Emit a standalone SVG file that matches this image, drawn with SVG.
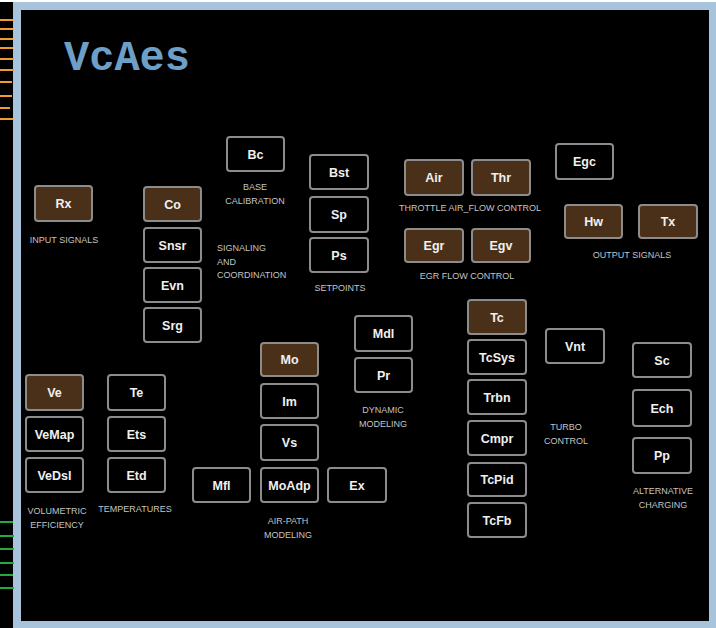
<svg xmlns="http://www.w3.org/2000/svg" width="716" height="628" viewBox="0 0 716 628">
<defs>
<style>
.n rect{fill:#000;stroke:#8c8c8c;stroke-width:2}
.n.b rect{fill:#4b3019}
.n text{font-family:"Liberation Sans",Arial,sans-serif;font-weight:bold;font-size:12.5px;fill:#f0f0f0;text-anchor:middle}
.lb{font-family:"Liberation Sans",Arial,sans-serif;font-size:9px;fill:#c4c4c4;text-anchor:middle}
.lbl{font-family:"Liberation Sans",Arial,sans-serif;font-size:9px;fill:#c4c4c4}
.or{stroke:#f39a2c;stroke-width:2}
.gr{stroke:#1fae3c;stroke-width:2}
</style>
</defs>
<rect width="716" height="628" fill="#ffffff"/>
<rect x="0" y="2" width="716" height="626" fill="#000"/>
<rect x="17" y="6" width="696" height="619" fill="#000" stroke="#a8c3dc" stroke-width="8"/>
<g id="edge-marks">
<line class="or" x1="0" y1="20" x2="13" y2="20"/>
<line class="or" x1="0" y1="29" x2="13" y2="29"/>
<line class="or" x1="0" y1="39" x2="13" y2="39"/>
<line class="or" x1="0" y1="48" x2="13" y2="48"/>
<line class="or" x1="0" y1="59" x2="14" y2="59"/>
<line class="or" x1="0" y1="70" x2="14" y2="70"/>
<line class="or" x1="0" y1="82" x2="12" y2="82"/>
<line class="or" x1="0" y1="96" x2="12" y2="96"/>
<line class="or" x1="0" y1="108" x2="10" y2="108"/>
<line class="or" x1="0" y1="119" x2="13" y2="119"/>
<line class="gr" x1="0" y1="522" x2="13" y2="522"/>
<line class="gr" x1="0" y1="536" x2="14" y2="536"/>
<line class="gr" x1="0" y1="549" x2="14" y2="549"/>
<line class="gr" x1="0" y1="563" x2="14" y2="563"/>
<line class="gr" x1="0" y1="575" x2="13" y2="575"/>
<line class="gr" x1="0" y1="588" x2="14" y2="588"/>
</g>
<text x="64" y="70" font-family="'Liberation Mono','Courier New',monospace" font-weight="bold" font-size="42" fill="#6d9fc7">VcAes</text>
<g id="connectors"/>
<g id="Rx" class="n b"><rect x="35" y="186" width="57" height="35" rx="3"/><text x="63.5" y="208">Rx</text></g>
<g id="Co" class="n b"><rect x="144" y="187" width="57" height="34" rx="3"/><text x="172.5" y="208.5">Co</text></g>
<g id="Snsr" class="n"><rect x="144" y="228" width="57" height="34" rx="3"/><text x="172.5" y="249.5">Snsr</text></g>
<g id="Evn" class="n"><rect x="144" y="268" width="57" height="34" rx="3"/><text x="172.5" y="289.5">Evn</text></g>
<g id="Srg" class="n"><rect x="144" y="308" width="57" height="34" rx="3"/><text x="172.5" y="329.5">Srg</text></g>
<g id="Bc" class="n"><rect x="227" y="137" width="57" height="34" rx="3"/><text x="255.5" y="158.5">Bc</text></g>
<g id="Bst" class="n"><rect x="310" y="155" width="58" height="34" rx="3"/><text x="339" y="176.5">Bst</text></g>
<g id="Sp" class="n"><rect x="310" y="197" width="58" height="35" rx="3"/><text x="339" y="219">Sp</text></g>
<g id="Ps" class="n"><rect x="310" y="238" width="58" height="34" rx="3"/><text x="339" y="259.5">Ps</text></g>
<g id="Air" class="n b"><rect x="405" y="160" width="58" height="35" rx="3"/><text x="434" y="182">Air</text></g>
<g id="Thr" class="n b"><rect x="472" y="160" width="58" height="35" rx="3"/><text x="501" y="182">Thr</text></g>
<g id="Egr" class="n b"><rect x="405" y="229" width="58" height="33" rx="3"/><text x="434" y="250">Egr</text></g>
<g id="Egv" class="n b"><rect x="472" y="229" width="58" height="33" rx="3"/><text x="501" y="250">Egv</text></g>
<g id="Egc" class="n"><rect x="556" y="144" width="57" height="35" rx="3"/><text x="584.5" y="166">Egc</text></g>
<g id="Hw" class="n b"><rect x="565" y="205" width="57" height="33" rx="3"/><text x="593.5" y="226">Hw</text></g>
<g id="Tx" class="n b"><rect x="639" y="205" width="58" height="33" rx="3"/><text x="668" y="226">Tx</text></g>
<g id="Ve" class="n b"><rect x="26" y="375" width="57" height="35" rx="3"/><text x="54.5" y="397">Ve</text></g>
<g id="VeMap" class="n"><rect x="26" y="417" width="57" height="34" rx="3"/><text x="54.5" y="438.5">VeMap</text></g>
<g id="VeDsl" class="n"><rect x="26" y="458" width="57" height="34" rx="3"/><text x="54.5" y="479.5">VeDsl</text></g>
<g id="Te" class="n"><rect x="108" y="375" width="57" height="35" rx="3"/><text x="136.5" y="397">Te</text></g>
<g id="Ets" class="n"><rect x="108" y="417" width="57" height="34" rx="3"/><text x="136.5" y="438.5">Ets</text></g>
<g id="Etd" class="n"><rect x="108" y="458" width="57" height="34" rx="3"/><text x="136.5" y="479.5">Etd</text></g>
<g id="Mfl" class="n"><rect x="193" y="468" width="57" height="34" rx="3"/><text x="221.5" y="489.5">Mfl</text></g>
<g id="Mo" class="n b"><rect x="261" y="343" width="57" height="33" rx="3"/><text x="289.5" y="364">Mo</text></g>
<g id="Im" class="n"><rect x="261" y="384" width="57" height="34" rx="3"/><text x="289.5" y="405.5">Im</text></g>
<g id="Vs" class="n"><rect x="261" y="425" width="57" height="35" rx="3"/><text x="289.5" y="447">Vs</text></g>
<g id="MoAdp" class="n"><rect x="261" y="468" width="57" height="34" rx="3"/><text x="289.5" y="489.5">MoAdp</text></g>
<g id="Ex" class="n"><rect x="328" y="468" width="58" height="34" rx="3"/><text x="357" y="489.5">Ex</text></g>
<g id="Mdl" class="n"><rect x="355" y="316" width="57" height="35" rx="3"/><text x="383.5" y="338">Mdl</text></g>
<g id="Pr" class="n"><rect x="355" y="358" width="57" height="34" rx="3"/><text x="383.5" y="379.5">Pr</text></g>
<g id="Tc" class="n b"><rect x="468" y="300" width="58" height="34" rx="3"/><text x="497" y="321.5">Tc</text></g>
<g id="TcSys" class="n"><rect x="468" y="340" width="58" height="34" rx="3"/><text x="497" y="361.5">TcSys</text></g>
<g id="Trbn" class="n"><rect x="468" y="380" width="58" height="34" rx="3"/><text x="497" y="401.5">Trbn</text></g>
<g id="Cmpr" class="n"><rect x="468" y="421" width="58" height="34" rx="3"/><text x="497" y="442.5">Cmpr</text></g>
<g id="TcPid" class="n"><rect x="468" y="463" width="58" height="33" rx="3"/><text x="497" y="484">TcPid</text></g>
<g id="TcFb" class="n"><rect x="468" y="503" width="58" height="34" rx="3"/><text x="497" y="524.5">TcFb</text></g>
<g id="Vnt" class="n"><rect x="546" y="329" width="58" height="34" rx="3"/><text x="575" y="350.5">Vnt</text></g>
<g id="Sc" class="n"><rect x="633" y="343" width="58" height="34" rx="3"/><text x="662" y="364.5">Sc</text></g>
<g id="Ech" class="n"><rect x="633" y="390" width="58" height="36" rx="3"/><text x="662" y="412.5">Ech</text></g>
<g id="Pp" class="n"><rect x="633" y="438" width="58" height="35" rx="3"/><text x="662" y="460">Pp</text></g>
<g id="labels">
<text class="lb" x="64" y="243">INPUT SIGNALS</text>
<text class="lb" x="255" y="190">BASE</text>
<text class="lb" x="255" y="204">CALIBRATION</text>
<text class="lbl" x="217" y="251">SIGNALING</text>
<text class="lbl" x="217" y="265">AND</text>
<text class="lbl" x="217" y="278">COORDINATION</text>
<text class="lb" x="340" y="291">SETPOINTS</text>
<text class="lb" x="470" y="211">THROTTLE AIR_FLOW CONTROL</text>
<text class="lb" x="467" y="279">EGR FLOW CONTROL</text>
<text class="lb" x="632" y="258">OUTPUT SIGNALS</text>
<text class="lb" x="57" y="514">VOLUMETRIC</text>
<text class="lb" x="57" y="528">EFFICIENCY</text>
<text class="lb" x="135" y="512">TEMPERATURES</text>
<text class="lb" x="288" y="524">AIR-PATH</text>
<text class="lb" x="288" y="538">MODELING</text>
<text class="lb" x="383" y="413">DYNAMIC</text>
<text class="lb" x="383" y="427">MODELING</text>
<text class="lb" x="566" y="430">TURBO</text>
<text class="lb" x="566" y="444">CONTROL</text>
<text class="lb" x="663" y="494">ALTERNATIVE</text>
<text class="lb" x="663" y="508">CHARGING</text>
</g>
</svg>
